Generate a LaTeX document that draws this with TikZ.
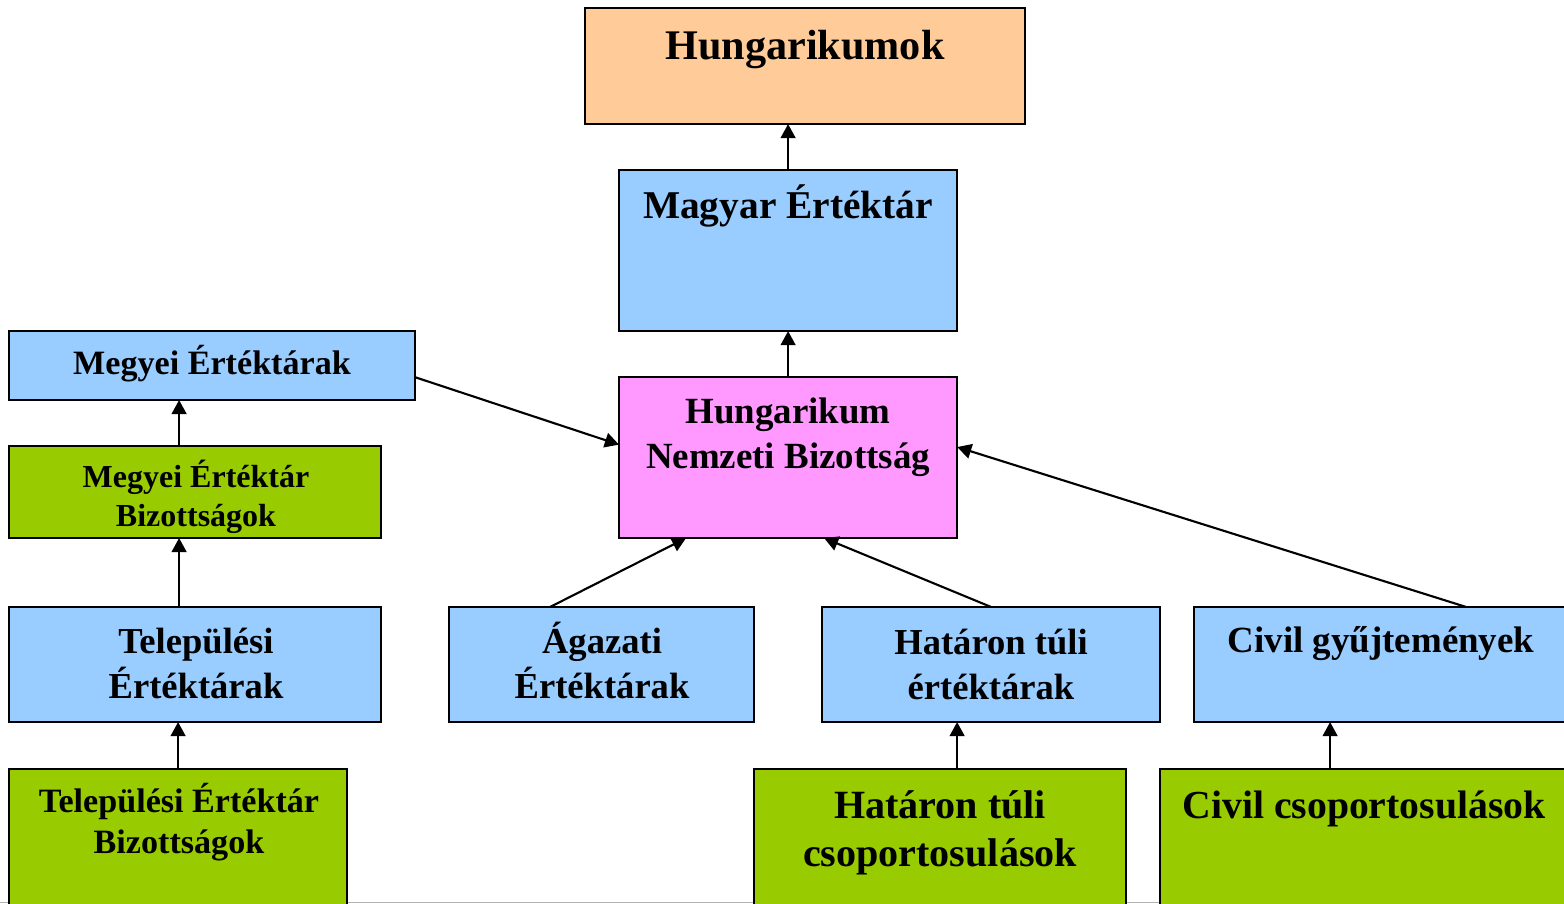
\documentclass[tikz,border=0pt]{standalone}
\usepackage{fontspec}
\setmainfont{Liberation Serif}
\usepackage{tikz}
\usetikzlibrary{arrows.meta,calc}

\definecolor{orangebox}{HTML}{FFCC99}
\definecolor{bluebox}{HTML}{99CCFF}
\definecolor{pinkbox}{HTML}{FF99FF}
\definecolor{greenbox}{HTML}{99CC00}

\tikzset{
  box/.style={draw=black, line width=0.6pt, anchor=north west, inner sep=0pt, outer sep=0pt},
  txt/.style={align=center, inner sep=0pt, font=\bfseries},
  arr/.style={-{Triangle[length=4pt,width=4.2pt]}, line width=0.6pt}
}

\begin{document}
\begin{tikzpicture}[x=0.01cm, y=-0.01cm]
  \useasboundingbox (0,0) rectangle (1564,904);
  \clip (0,0) rectangle (1564,904);
  \draw[gray!60, line width=0.4pt] (0,902.5) -- (1564,902.5);

  \node[box, fill=orangebox, minimum width=4.40cm, minimum height=1.16cm] (hung) at (585,8) {};
  \node[box, fill=bluebox, minimum width=3.38cm, minimum height=1.61cm] (magyar) at (619,170) {};
  \node[box, fill=bluebox, minimum width=4.06cm, minimum height=0.69cm] (megyei) at (9,331) {};
  \node[box, fill=pinkbox, minimum width=3.38cm, minimum height=1.61cm] (hnb) at (619,377) {};
  \node[box, fill=greenbox, minimum width=3.72cm, minimum height=0.92cm] (meb) at (9,446) {};
  \node[box, fill=bluebox, minimum width=3.72cm, minimum height=1.15cm] (telep) at (9,607) {};
  \node[box, fill=bluebox, minimum width=3.05cm, minimum height=1.15cm] (agazati) at (449,607) {};
  \node[box, fill=bluebox, minimum width=3.38cm, minimum height=1.15cm] (hatar) at (822,607) {};
  \node[box, fill=bluebox, minimum width=4.00cm, minimum height=1.15cm] (civilgy) at (1194,607) {};
  \node[box, fill=greenbox, minimum width=3.38cm, minimum height=1.60cm] (teb) at (9,769) {};
  \node[box, fill=greenbox, minimum width=3.72cm, minimum height=1.60cm] (hatarcs) at (754,769) {};
  \node[box, fill=greenbox, minimum width=4.20cm, minimum height=1.60cm] (civilcs) at (1160,769) {};

  \node[txt, font=\bfseries\fontsize{12}{14}\selectfont] (hung-t) at (805,50) {Hungarikumok};
  \node[txt, font=\bfseries\fontsize{11.2}{13}\selectfont] (magyar-t) at (788,206) {Magyar Értéktár};
  \node[txt, font=\bfseries\fontsize{9.7}{11}\selectfont] (megyei-t) at (212,364) {Megyei Értéktárak};
  \node[txt, font=\bfseries\fontsize{10.5}{12.8}\selectfont] (hnb-t) at (788,437) {Hungarikum\\Nemzeti Bizottság};
  \node[txt, font=\bfseries\fontsize{9.1}{11.1}\selectfont] (meb-t) at (196,497) {Megyei Értéktár\\Bizottságok};
  \node[txt, font=\bfseries\fontsize{10.4}{12.8}\selectfont] (telep-t) at (196,663) {Települési\\Értéktárak};
  \node[txt, font=\bfseries\fontsize{10.4}{12.8}\selectfont] (agazati-t) at (602,660) {Ágazati\\Értéktárak};
  \node[txt, font=\bfseries\fontsize{10.4}{12.8}\selectfont] (hatar-t) at (991,664) {Határon túli\\értéktárak};
  \node[txt, font=\bfseries\fontsize{10.5}{12.8}\selectfont] (civilgy-t) at (1381,644) {Civil gyűjtemények};
  \node[txt, font=\bfseries\fontsize{9.7}{11.7}\selectfont] (teb-t) at (179,822) {Települési Értéktár\\Bizottságok};
  \node[txt, font=\bfseries\fontsize{11.4}{13.7}\selectfont] (hatarcs-t) at (940,833) {Határon túli\\csoportosulások};
  \node[txt, font=\bfseries\fontsize{11.3}{13.5}\selectfont] (civilcs-t) at (1364,809) {Civil csoportosulások};

  \draw[arr] (magyar.north) -- (magyar.north |- hung.south);
  \draw[arr] (hnb.north) -- (magyar.south);
  \draw[arr] ($(megyei.north east)!0.67!(megyei.south east)$) -- ($(hnb.north west)!0.42!(hnb.south west)$);
  \draw[arr] ([xshift=-0.16cm]meb.north) -- ([xshift=-0.16cm]meb.north |- megyei.south);
  \draw[arr] ([xshift=-0.16cm]telep.north) -- ([xshift=-0.16cm]telep.north |- meb.south);
  \draw[arr] (teb.north) -- (teb.north |- telep.south);
  \draw[arr] ([xshift=-0.515cm]agazati.north) -- ([xshift=-1.02cm]hnb.south);
  \draw[arr] (hatar.north) -- ([xshift=0.36cm]hnb.south);
  \draw[arr] ([xshift=0.72cm]civilgy.north) -- ([yshift=0.105cm]hnb.east);
  \draw[arr] ([xshift=0.17cm]hatarcs.north) -- ([xshift=0.17cm]hatarcs.north |- hatar.south);
  \draw[arr] ([xshift=-0.40cm]civilcs.north) -- ([xshift=-0.40cm]civilcs.north |- civilgy.south);
\end{tikzpicture}
\end{document}
